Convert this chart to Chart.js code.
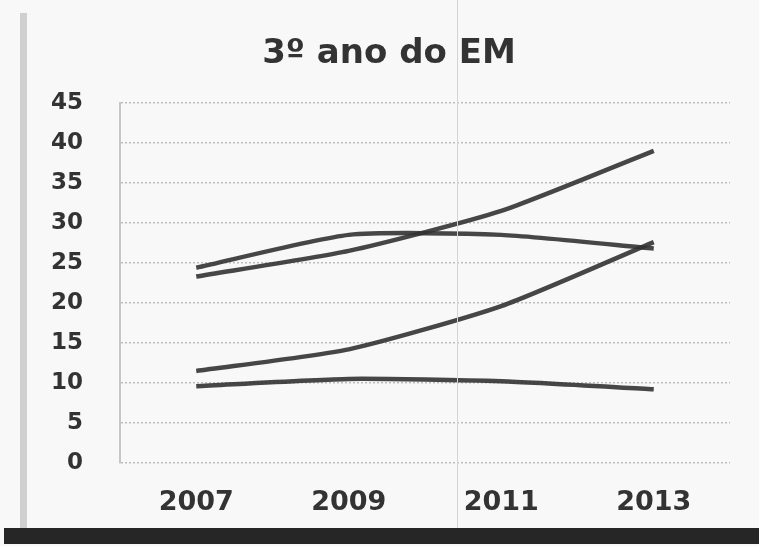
<!DOCTYPE html>
<html>
<head>
<meta charset="utf-8">
<script src="https://cdn.jsdelivr.net/npm/chart.js@4/dist/chart.umd.min.js"></script>
<style>
    body { margin: 0; background: #f8f8f8; }
    #wrap { position: relative; width: 759px; height: 546px; overflow: hidden; background: #f8f8f8; }
    #chart { position: absolute; left: 0; top: 0; }
    .deco { position: absolute; pointer-events: none; }
</style>
</head>
<body>
<div id="wrap">
    <canvas id="chart" width="759" height="546"></canvas>
    <!-- photo edges: grey page edge on the left, dark bar at the bottom, fold line -->
    <div class="deco" style="left:20px; top:13px; width:7px; height:515px; background:#cfcfcf;"></div>
    <div class="deco" style="left:457px; top:0; width:1px; height:528px; background:#d4d4d4;"></div>
    <div class="deco" style="left:4px; top:528px; width:755px; height:16px; background:#262626;"></div>
</div>
<script>
// Chart values
const years = ['2007', '2009', '2011', '2013'];
const serieA = [23.3, 26.5, 31.5, 39];
const serieB = [24.4, 28.5, 28.5, 26.8];
const serieC = [11.5, 14.2, 19.6, 27.6];
const serieD = [9.6, 10.5, 10.2, 9.2];

const lineColor = 'rgba(50, 50, 50, 0.9)';
const textColor = '#333333';

function makeSet(values) {
    return {
        data: values,
        borderColor: lineColor,
        borderWidth: 4.5,
        pointRadius: 0,
        tension: 0.2,
        fill: false,
    };
}

const ctx = document.getElementById('chart').getContext('2d');
new Chart(ctx, {
    type: 'line',
    data: {
        labels: years,
        datasets: [makeSet(serieA), makeSet(serieB), makeSet(serieC), makeSet(serieD)],
    },
    options: {
        responsive: false,
        animation: false,
        layout: {
            padding: { left: 48, right: 29, top: 0, bottom: 27 },
        },
        plugins: {
            legend: { display: false },
            tooltip: { enabled: false },
            title: {
                display: true,
                text: '3º ano do EM',
                color: textColor,
                font: { family: 'DejaVu Sans', size: 34, weight: 'bold' },
                padding: { top: 34, bottom: 28 },
            },
        },
        scales: {
            x: {
                offset: true,
                grid: { display: false, drawTicks: false },
                border: { display: false },
                afterFit: (scale) => { scale.height = 56; },
                ticks: {
                    color: textColor,
                    padding: 24,
                    font: { family: 'DejaVu Sans', size: 27, weight: 'bold' },
                },
            },
            y: {
                min: 0,
                max: 45,
                afterFit: (scale) => { scale.width = 72; },
                grid: {
                    color: '#bdbdbd',
                    lineWidth: 1.5,
                    drawTicks: false,
                },
                border: { color: '#c6c6c6', width: 2, dash: [2, 2] },
                ticks: {
                    stepSize: 5,
                    color: textColor,
                    padding: 37,
                    font: { family: 'DejaVu Sans', size: 23, weight: 'bold' },
                },
            },
        },
    },
});
</script>
</body>
</html>
